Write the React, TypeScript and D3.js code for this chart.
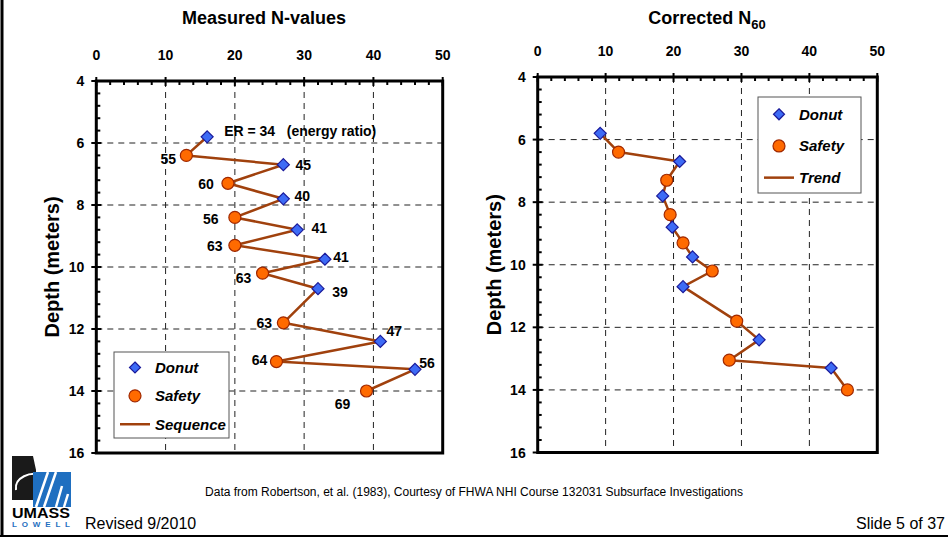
import React from "react";
import * as d3 from "d3";

// ---------- data ----------
const donutDepth = [5.8, 6.7, 7.8, 8.8, 9.75, 10.7, 12.4, 13.3];
const donutN = [16, 27, 27, 29, 33, 32, 41, 46];
const donutN60 = [9.2, 20.9, 18.4, 19.8, 22.8, 21.4, 32.6, 43.2];
const donutLabels = ["ER = 34   (energy ratio)", "45", "40", "41", "41", "39", "47", "56"];

const safetyDepth = [6.4, 7.3, 8.4, 9.3, 10.2, 11.8, 13.05, 14.0];
const safetyN = [13, 19, 20, 20, 24, 27, 26, 39];
const safetyN60 = [11.9, 19.0, 19.5, 21.4, 25.7, 29.3, 28.2, 45.6];
const safetyLabels = ["55", "60", "56", "63", "63", "63", "64", "69"];

const xTicks = [0, 10, 20, 30, 40, 50];
const yTicks = [4, 6, 8, 10, 12, 14, 16];

// label offsets (pixels, presentation only)
const donutLabelOffsets: [number, number][] = [
  [17, -6], [20, 0], [19, -3], [22, -2], [16, -2], [22, 3], [14, -10], [12, -6],
];
const safetyLabelOffsets: [number, number][] = [
  [-18, 4], [-22, 1], [-24, 2], [-20, 1], [-19, 5], [-19, 0], [-17, -2], [-24, 13],
];

const FONT = "'Liberation Sans', Arial, sans-serif";
const LINE = "#A0410D";
const BLUE = "#3D6BF5";
const BLUE_S = "#1A1A9A";
const ORANGE = "#FF6A00";
const ORANGE_S = "#A02800";

type Pt = { n: number; d: number; kind: "donut" | "safety"; i: number };

function sequence(dN: number[], sN: number[]): Pt[] {
  const pts: Pt[] = [];
  donutDepth.forEach((d, i) => pts.push({ n: dN[i], d, kind: "donut", i }));
  safetyDepth.forEach((d, i) => pts.push({ n: sN[i], d, kind: "safety", i }));
  return pts.sort((a, b) => a.d - b.d);
}

const Diamond = ({ x, y, s = 6 }: { x: number; y: number; s?: number }) => (
  <path
    d={`M${x},${y - s}L${x + s},${y}L${x},${y + s}L${x - s},${y}Z`}
    fill={BLUE}
    stroke={BLUE_S}
    strokeWidth={1.2}
  />
);
const Dot = ({ x, y, r = 6 }: { x: number; y: number; r?: number }) => (
  <circle cx={x} cy={y} r={r} fill={ORANGE} stroke={ORANGE_S} strokeWidth={1.2} />
);

function Panel({
  x0, x1, y0, y1, dN, sN, labels, legend, lineName,
}: {
  x0: number; x1: number; y0: number; y1: number;
  dN: number[]; sN: number[]; labels: boolean;
  legend: { x: number; y: number; w: number; h: number };
  lineName: string;
}) {
  const x = d3.scaleLinear().domain([0, 50]).range([x0, x1]);
  const y = d3.scaleLinear().domain([4, 16]).range([y0, y1]);
  const pts = sequence(dN, sN);
  const line = d3.line<Pt>().x((p) => x(p.n)).y((p) => y(p.d));
  const minorX = d3.range(0, 50.01, 2).filter((v) => v % 10 !== 0);
  const minorY = d3.range(4, 16.01, 0.4).filter((v) => Math.abs(v / 2 - Math.round(v / 2)) > 0.01);
  const L = legend;
  return (
    <g>
      {/* grid */}
      {xTicks.slice(1, -1).map((t) => (
        <line key={"gx" + t} x1={x(t)} x2={x(t)} y1={y0} y2={y1} stroke="#222" strokeWidth={1} strokeDasharray="6,5" />
      ))}
      {yTicks.slice(1, -1).map((t) => (
        <line key={"gy" + t} x1={x0} x2={x1} y1={y(t)} y2={y(t)} stroke="#222" strokeWidth={1} strokeDasharray="6,5" />
      ))}
      {/* minor ticks */}
      {minorX.map((t) => (
        <line key={"mx" + t} x1={x(t)} x2={x(t)} y1={y0} y2={y0 + 4} stroke="#000" strokeWidth={2} />
      ))}
      {minorY.map((t) => (
        <line key={"my" + t} x1={x0} x2={x0 + 4} y1={y(t)} y2={y(t)} stroke="#000" strokeWidth={2} />
      ))}
      {/* major ticks */}
      {xTicks.map((t) => (
        <line key={"Mx" + t} x1={x(t)} x2={x(t)} y1={y0 - 4} y2={y0 + 5} stroke="#000" strokeWidth={2} />
      ))}
      {yTicks.map((t) => (
        <line key={"My" + t} x1={x0 - 5} x2={x0 + 5} y1={y(t)} y2={y(t)} stroke="#000" strokeWidth={2} />
      ))}
      {/* frame */}
      <rect x={x0} y={y0} width={x1 - x0} height={y1 - y0} fill="none" stroke="#000" strokeWidth={3} />
      {/* tick labels */}
      {xTicks.map((t) => (
        <text key={"tx" + t} x={x(t)} y={y0 - 21} textAnchor="middle" fontFamily={FONT} fontWeight="bold" fontSize={14}>
          {t}
        </text>
      ))}
      {yTicks.map((t) => (
        <text key={"ty" + t} x={x0 - 12} y={y(t) + 5} textAnchor="end" fontFamily={FONT} fontWeight="bold" fontSize={14}>
          {t}
        </text>
      ))}
      <text
        transform={`translate(${x0 - 37},${(y0 + y1) / 2}) rotate(-90)`}
        textAnchor="middle"
        fontFamily={FONT}
        fontWeight="bold"
        fontSize={20}
      >
        Depth (meters)
      </text>
      {/* legend */}
      <rect x={L.x} y={L.y} width={L.w} height={L.h} fill="#fff" stroke="#555" strokeWidth={1} />
      <Diamond x={L.x + 21} y={L.y + L.h * 0.18} s={5.5} />
      <Dot x={L.x + 21} y={L.y + L.h * 0.51} r={6} />
      <line x1={L.x + 6} x2={L.x + 36} y1={L.y + L.h * 0.84} y2={L.y + L.h * 0.84} stroke={LINE} strokeWidth={2.5} />
      {["Donut", "Safety", lineName].map((s, k) => (
        <text key={s} x={L.x + 41} y={L.y + L.h * [0.18, 0.51, 0.84][k] + 5.5} fontFamily={FONT} fontWeight="bold" fontStyle="italic" fontSize={15}>
          {s}
        </text>
      ))}
      {/* series */}
      <path d={line(pts) || ""} fill="none" stroke={LINE} strokeWidth={2.5} strokeLinejoin="round" />
      {pts.map((p) =>
        p.kind === "donut" ? (
          <Diamond key={"d" + p.i} x={x(p.n)} y={y(p.d)} />
        ) : (
          <Dot key={"s" + p.i} x={x(p.n)} y={y(p.d)} />
        )
      )}
      {labels &&
        donutLabels.map((s, i) => (
          <text
            key={"dl" + i}
            x={x(dN[i]) + donutLabelOffsets[i][0]}
            y={y(donutDepth[i]) + donutLabelOffsets[i][1] + 5}
            textAnchor={i === 0 ? "start" : "middle"}
            fontFamily={FONT}
            fontWeight="bold"
            fontSize={14}
            xmlSpace="preserve"
            style={{ whiteSpace: "pre" }}
          >
            {s}
          </text>
        ))}
      {labels &&
        safetyLabels.map((s, i) => (
          <text
            key={"sl" + i}
            x={x(sN[i]) + safetyLabelOffsets[i][0]}
            y={y(safetyDepth[i]) + safetyLabelOffsets[i][1] + 5}
            textAnchor="middle"
            fontFamily={FONT}
            fontWeight="bold"
            fontSize={14}
          >
            {s}
          </text>
        ))}
    </g>
  );
}

export default function App() {
  return (
    <svg
      width={948}
      height={539}
      viewBox="0 0 948 539"
      style={{ position: "absolute", left: 0, top: 0, background: "#fff" }}
    >
      <rect x={0} y={0} width={948} height={539} fill="#fff" />
      {/* slide frame */}
      <line x1={2} x2={2} y1={0} y2={537} stroke="#000" strokeWidth={3} />
      <line x1={0} x2={948} y1={536} y2={536} stroke="#000" strokeWidth={2} />

      {/* titles */}
      <text x={264} y={24} textAnchor="middle" fontFamily={FONT} fontWeight="bold" fontSize={18}>
        Measured N-values
      </text>
      <text x={707} y={24} textAnchor="middle" fontFamily={FONT} fontWeight="bold" fontSize={18}>
        Corrected N<tspan fontSize={13} dy={5}>60</tspan>
      </text>

      <Panel
        x0={96.3} x1={442.7} y0={81} y1={453}
        dN={donutN} sN={safetyN} labels={true}
        legend={{ x: 114, y: 352, w: 115, h: 86 }}
        lineName="Sequence"
      />
      <Panel
        x0={537.7} x1={877.3} y0={77} y1={452.5}
        dN={donutN60} sN={safetyN60} labels={false}
        legend={{ x: 758, y: 97, w: 103, h: 96 }}
        lineName="Trend"
      />

      {/* footer */}
      <text x={474} y={496} textAnchor="middle" fontFamily={FONT} fontSize={12}>
        Data from Robertson, et al. (1983), Courtesy of FHWA NHI Course 132031 Subsurface Investigations
      </text>
      <text x={85} y={529} fontFamily={FONT} fontSize={16}>
        Revised 9/2010
      </text>
      <text x={945} y={529} textAnchor="end" fontFamily={FONT} fontSize={16}>
        Slide 5 of 37
      </text>

      {/* logo */}
      <g>
        <path d="M12,456 L33,456 L36,470 L36,500 L12,500 Z" fill="#1a1a1a" />
        <path d="M16,490 C14,478 30,470 44,476" fill="none" stroke="#fff" strokeWidth={2} />
        <rect x={33} y={472} width={38} height={35} fill="#1f6fc0" />
        <path d="M36,507 L48,472 M44,507 L56,472 M56,507 L62,486 M64,507 L68,494" stroke="#fff" strokeWidth={2.5} />
        <text x={12} y={518} fontFamily={FONT} fontWeight="bold" fontSize={14} textLength={58} lengthAdjust="spacingAndGlyphs">
          UMASS
        </text>
        <text x={12} y={527} fontFamily={FONT} fontWeight="bold" fontSize={8} fill="#1f6fc0" textLength={58} lengthAdjust="spacing">
          LOWELL
        </text>
      </g>
    </svg>
  );
}
